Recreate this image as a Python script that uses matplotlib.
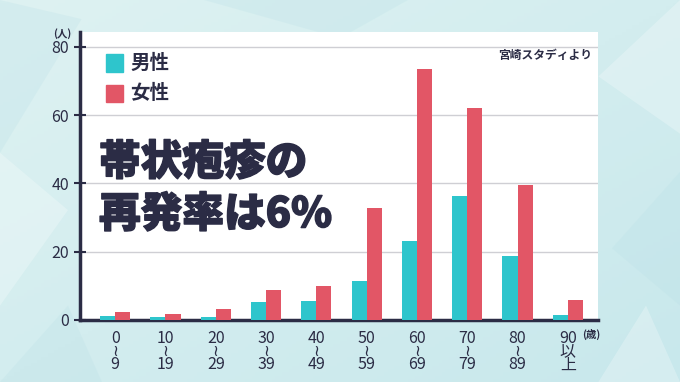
import numpy as np
import matplotlib
matplotlib.use("Agg")
import matplotlib.pyplot as plt
import matplotlib.patheffects as pe
from matplotlib.patches import Polygon

plt.rcParams['font.family'] = ['Noto Sans CJK JP', 'DejaVu Sans']

# データ（宮崎スタディ：帯状疱疹の再発）
ages = ["0\n≀\n9", "10\n≀\n19", "20\n≀\n29", "30\n≀\n39", "40\n≀\n49",
        "50\n≀\n59", "60\n≀\n69", "70\n≀\n79", "80\n≀\n89", "90\n以\n上"]
male = [1.3, 1.0, 1.0, 5.4, 5.6, 11.5, 23.2, 36.3, 18.7, 1.5]
female = [2.4, 1.8, 3.1, 8.9, 10.0, 32.7, 73.6, 62.2, 39.5, 5.8]
yticks = [0, 20, 40, 60, 80]

teal = "#2ec5cc"
red = "#e25666"
ink = "#2b2c45"

fig = plt.figure(figsize=(6.8, 3.82), dpi=100)

# 背景（淡い水色のグラデーション＋多角形模様）
bg = fig.add_axes([0, 0, 1, 1])
bg.set_xlim(0, 1)
bg.set_ylim(0, 1)
bg.axis("off")
gx, gy = np.meshgrid(np.linspace(0, 1, 200), np.linspace(0, 1, 120))
grad = 0.5 * gx + 0.5 * (1 - gy)
bg.imshow(grad, extent=[0, 1, 0, 1], origin="lower", aspect="auto",
          cmap=matplotlib.colors.LinearSegmentedColormap.from_list("bg", ["#def2f2", "#c8e8ec"]))
facets = [
    [(0, 0.6), (0.12, 0.95), (0.0, 1.0)],
    [(0.0, 0.2), (0.1, 0.45), (0.0, 0.6)],
    [(0.0, 0.0), (0.15, 0.0), (0.1, 0.2)],
    [(0.88, 0.8), (1.0, 0.65), (1.0, 1.0)],
    [(0.9, 0.35), (1.0, 0.2), (1.0, 0.55)],
    [(0.88, 0.0), (1.0, 0.0), (0.95, 0.2)],
    [(0.3, 1.0), (0.5, 0.9), (0.6, 1.0)],
]
for i, f in enumerate(facets):
    bg.add_patch(Polygon(f, closed=True, color="#ffffff" if i % 2 else "#b9dfe6",
                         alpha=0.25, lw=0))

# 白いパネル
ax = fig.add_axes([80 / 680, 62 / 382, 518 / 680, 288 / 382])
ax.set_facecolor("white")

x = np.arange(len(ages))
w = 0.3
ax.bar(x - w / 2, male, width=w, color=teal, zorder=3)
ax.bar(x + w / 2, female, width=w, color=red, zorder=3)

ax.set_xlim(-0.7, 9.6)
ax.set_ylim(0, 84.3)
ax.set_yticks(yticks)
ax.set_yticklabels([str(t) for t in yticks], fontsize=11.5, color=ink)
ax.yaxis.grid(True, color="#cfcfd4", lw=1, zorder=0)
ax.tick_params(axis="y", direction="inout", length=8, width=1.5, color=ink, pad=4)
ax.set_xticks(x)
ax.set_xticklabels(ages, fontsize=11.5, color=ink, linespacing=0.72)
ax.tick_params(axis="x", length=0, pad=7)

for s in ["top", "right"]:
    ax.spines[s].set_visible(False)
for s in ["left", "bottom"]:
    ax.spines[s].set_color(ink)
    ax.spines[s].set_linewidth(2.5)

# 単位
fig.text(62 / 680, 1 - 34 / 382, "(人)", fontsize=7.5, color=ink, ha="center", va="center",
         fontweight="bold")
fig.text(591 / 680, 1 - 334 / 382, "(歳)", fontsize=7.5, color=ink, ha="center", va="center",
         fontweight="bold")

# 凡例
for yy, c, lab in [(63, teal, "男性"), (93, red, "女性")]:
    fig.patches.append(plt.Rectangle((106 / 680, 1 - (yy + 8.5) / 382), 17 / 680, 17 / 382,
                                     color=c, transform=fig.transFigure, figure=fig))
    fig.text(130 / 680, 1 - yy / 382, lab, fontsize=14, color=ink, fontweight="bold",
             va="center", ha="left")

fig.text(592 / 680, 1 - 55 / 382, "宮崎スタディより", fontsize=8.5, color=ink,
         fontweight="bold", ha="right", va="center")

# 見出し
heavy = [pe.withStroke(linewidth=1.0, foreground=ink)]
fig.text(99 / 680, 1 - 163 / 382, "帯状疱疹の", fontsize=30, color=ink, fontweight="black",
         ha="left", va="center", path_effects=heavy)
fig.text(99 / 680, 1 - 215 / 382, "再発率は6%", fontsize=30, color=ink, fontweight="black",
         ha="left", va="center", path_effects=heavy)

fig.savefig("out.png", dpi=100)
